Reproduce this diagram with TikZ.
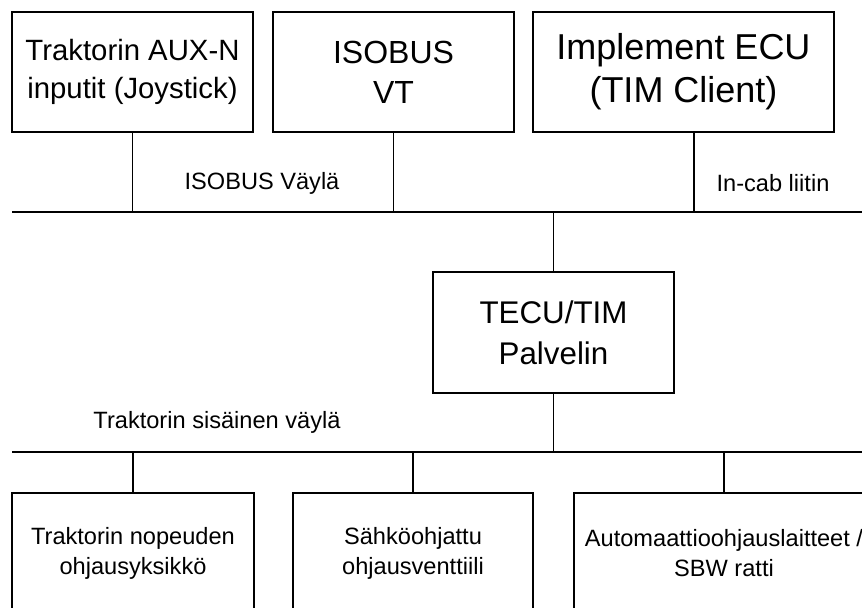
\documentclass[tikz,border=0pt]{standalone}
\usepackage{fontspec}
\setmainfont{Liberation Sans}
\begin{document}
\begin{tikzpicture}[x=0.75pt,y=-0.75pt,
  line width=1.1pt,
  box/.style={draw=black, rectangle, inner sep=0pt, align=center, fill=white},
  lbl/.style={inner sep=0pt, font=\fontsize{17.7}{21}\selectfont},
  bus/.style={draw=black}]
\useasboundingbox (0,0) rectangle (862,607);
\clip (0,0) rectangle (862,607);
% top boxes
\node[box, minimum width=241*0.75pt, minimum height=120*0.75pt, font=\fontsize{22}{28}\selectfont] (b1) at (132.5,72) {Traktorin AUX-N\\inputit (Joystick)};
\node[box, minimum width=241*0.75pt, minimum height=120*0.75pt, font=\fontsize{24}{30}\selectfont] (b2) at (393.5,72) {ISOBUS\\VT};
\node[box, minimum width=301*0.75pt, minimum height=120*0.75pt, font=\fontsize{27}{32}\selectfont] (b3) at (683.5,72) {Implement ECU\\(TIM Client)};
% TECU
\node[box, minimum width=241*0.75pt, minimum height=121*0.75pt, font=\fontsize{23.5}{30.5}\selectfont] (tecu) at (553.5,332.5) {TECU/TIM\\Palvelin};
% bottom boxes
\node[box, minimum width=242*0.75pt, minimum height=120*0.75pt, font=\fontsize{17.7}{22.5}\selectfont] (c1) at (133,553) {Traktorin nopeuden\\ohjausyksikkö};
\node[box, minimum width=240*0.75pt, minimum height=120*0.75pt, font=\fontsize{17.7}{22.5}\selectfont] (c2) at (413,553) {Sähköohjattu\\ohjausventtiili};
\node[box, minimum width=300*0.75pt, minimum height=120*0.75pt, font=\fontsize{17.7}{22.5}\selectfont] (c3) at (724,553) {Automaattioohjauslaitteet /\\SBW ratti};
% buses
\coordinate (busAL) at (12,212);
\coordinate (busAR) at (862,212);
\coordinate (busBL) at (12,452);
\coordinate (busBR) at (862,452);
\coordinate (t3) at (694,212);
\draw[bus] (busAL) -- (busAR);
\draw[bus] (busBL) -- (busBR);
% drops
\draw (b1.south) -- (b1.south |- busAL);
\draw (b2.south) -- (b2.south |- busAL);
\draw (t3 |- b3.south) -- (t3);
\draw (tecu.north) -- (tecu.north |- busAL);
\draw (tecu.south) -- (tecu.south |- busBL);
\draw (c1.north) -- (c1.north |- busBL);
\draw (c2.north) -- (c2.north |- busBL);
\draw (c3.north) -- (c3.north |- busBL);
% labels
\node[lbl] (l1) at (262,183) {ISOBUS Väylä};
\node[lbl] (l2) at (773,183) {In-cab liitin};
\node[lbl] (l3) at (217,422) {Traktorin sisäinen väylä};
\end{tikzpicture}
\end{document}
